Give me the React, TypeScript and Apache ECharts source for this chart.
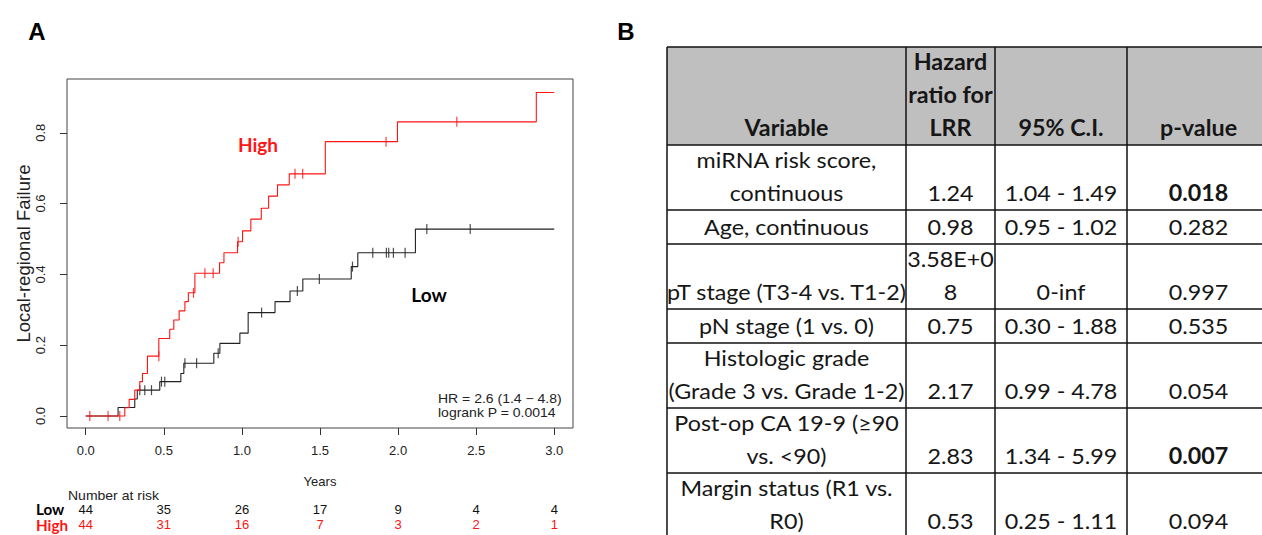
import React, { useEffect, useRef } from "react";
import * as echarts from "echarts";

// ---------- Panel A data ----------
const xTicks = [0, 0.5, 1, 1.5, 2, 2.5, 3];
const yTicks = [0, 0.2, 0.4, 0.6, 0.8];
const lowAtRisk = [44, 35, 26, 17, 9, 4, 4];
const highAtRisk = [44, 31, 16, 7, 3, 2, 1];

// step curves [years, cumulative failure]
const highCurve: [number, number][] = [
  [0, 0], [0.25, 0.023], [0.278, 0.047], [0.314, 0.073], [0.346, 0.097],
  [0.363, 0.12], [0.395, 0.169], [0.468, 0.219], [0.538, 0.245], [0.564, 0.271],
  [0.598, 0.297], [0.635, 0.323], [0.657, 0.348], [0.699, 0.403], [0.857, 0.433],
  [0.885, 0.461], [0.972, 0.492], [1.004, 0.523], [1.057, 0.556], [1.124, 0.587],
  [1.171, 0.621], [1.228, 0.653], [1.303, 0.684], [1.534, 0.775], [1.996, 0.831],
  [2.885, 0.914], [3.0, 0.914],
];
const lowCurve: [number, number][] = [
  [0, 0], [0.207, 0.024], [0.314, 0.048], [0.33, 0.073], [0.474, 0.097],
  [0.609, 0.12], [0.628, 0.149], [0.82, 0.177], [0.859, 0.205], [0.987, 0.234],
  [1.04, 0.292], [1.212, 0.323], [1.308, 0.353], [1.39, 0.387], [1.70, 0.422],
  [1.742, 0.461], [2.111, 0.528], [3.0, 0.528],
];
const highCensor: [number, number][] = [
  [0.026, 0], [0.143, 0], [0.218, 0], [0.468, 0.169], [0.69, 0.348],
  [0.763, 0.403], [0.816, 0.403], [0.976, 0.492], [1.34, 0.684], [1.389, 0.684],
  [1.923, 0.775], [2.376, 0.831],
];
const lowCensor: [number, number][] = [
  [0.346, 0.073], [0.378, 0.073], [0.421, 0.073], [0.485, 0.097], [0.506, 0.097],
  [0.635, 0.149], [0.71, 0.149], [0.848, 0.177], [1.126, 0.292], [1.355, 0.353],
  [1.496, 0.387], [1.708, 0.422], [1.838, 0.461], [1.925, 0.461], [1.94, 0.461],
  [1.97, 0.461], [2.045, 0.461], [2.184, 0.528], [2.462, 0.528],
];

// ---------- Panel B data ----------
const tableHeader = ["Variable", "Hazard\nratio for\nLRR", "95% C.I.", "p-value"];
const variables = [
  "miRNA risk score,\ncontinuous",
  "Age, continuous",
  "pT stage (T3-4 vs. T1-2)",
  "pN stage (1 vs. 0)",
  "Histologic grade\n(Grade 3 vs. Grade 1-2)",
  "Post-op CA 19-9 (≥90\nvs. <90)",
  "Margin status (R1 vs.\nR0)",
];
const hazardRatios = ["1.24", "0.98", "3.58E+0\n8", "0.75", "2.17", "2.83", "0.53"];
const confIntervals = ["1.04 - 1.49", "0.95 - 1.02", "0-inf", "0.30 - 1.88", "0.99 - 4.78", "1.34 - 5.99", "0.25 - 1.11"];
const pValues = ["0.018", "0.282", "0.997", "0.535", "0.054", "0.007", "0.094"];

// table layout
const colEdges = [667, 906, 995, 1127, 1270];
const rowEdges = [47, 145, 210, 244, 309, 343, 408, 473, 538];

const RED = "#ff1414";
const BLACK = "#222";
const R_FONT = "'Liberation Sans', Arial, sans-serif";
const T_FONT = "Lato, 'Noto Sans', sans-serif";

function idxOf(v: number) {
  return xTicks.findIndex((t) => Math.abs(t - v) < 1e-6);
}

function buildTable(): any[] {
  const els: any[] = [];
  const L = colEdges[0];
  const R = colEdges[colEdges.length - 1];
  els.push({
    type: "rect",
    shape: { x: L, y: rowEdges[0], width: R - L, height: rowEdges[1] - rowEdges[0] },
    style: { fill: "#bfbfbf" },
    silent: true,
  });
  const cell = (text: string, c: number, r: number, bold: boolean) => ({
    type: "text",
    x: (colEdges[c] + colEdges[c + 1]) / 2,
    y: rowEdges[r + 1] - 1,
    scaleX: 1.06,
    silent: true,
    style: {
      text,
      fill: "#161616",
      fontFamily: T_FONT,
      fontSize: 22,
      fontWeight: bold ? "bold" : "normal",
      lineHeight: 33,
      align: "center",
      verticalAlign: "bottom",
    },
  });
  tableHeader.forEach((h, c) => els.push(cell(h, c, 0, true)));
  variables.forEach((v, i) => {
    els.push(cell(v, 0, i + 1, false));
    els.push(cell(hazardRatios[i], 1, i + 1, false));
    els.push(cell(confIntervals[i], 2, i + 1, false));
    els.push(cell(pValues[i], 3, i + 1, parseFloat(pValues[i]) < 0.05));
  });
  rowEdges.forEach((y) =>
    els.push({
      type: "line",
      silent: true,
      shape: { x1: L, y1: y, x2: R, y2: y },
      style: { stroke: "#111", lineWidth: 1.5 },
    })
  );
  colEdges.forEach((x) =>
    els.push({
      type: "line",
      silent: true,
      shape: { x1: x, y1: rowEdges[0], x2: x, y2: rowEdges[rowEdges.length - 1] },
      style: { stroke: "#111", lineWidth: 1.5 },
    })
  );
  return els;
}

function rText(text: string, x: number, y: number, opts: any = {}) {
  return {
    type: "text",
    x,
    y,
    scaleX: opts.scaleX ?? 1.12,
    silent: true,
    style: {
      text,
      fill: opts.fill ?? "#222",
      fontFamily: opts.font ?? R_FONT,
      fontSize: opts.size ?? 12.5,
      lineHeight: opts.size ?? 12.5,
      fontWeight: opts.bold ? "bold" : "normal",
      align: opts.align ?? "left",
      verticalAlign: "middle",
    },
  };
}

export default function App() {
  const ref = useRef<HTMLDivElement>(null);
  useEffect(() => {
    if (!ref.current) return;
    const chart = echarts.init(ref.current, undefined, { renderer: "svg" });
    const riskAxis = (offset: number, values: number[], color: string) => ({
      type: "value",
      gridIndex: 0,
      position: "bottom",
      offset,
      min: -0.12,
      max: 3.12,
      axisLine: { show: false, onZero: false },
      axisTick: { show: false },
      splitLine: { show: false },
      axisLabel: {
        customValues: xTicks,
        margin: 0,
        color,
        fontSize: 13,
        fontFamily: R_FONT,
        formatter: (v: number) => String(values[idxOf(v)] ?? ""),
      },
    });
    chart.setOption({
      animation: false,
      backgroundColor: "#fff",
      grid: {
        left: 67,
        top: 79,
        width: 506,
        height: 349,
        show: true,
        borderColor: "#444",
        borderWidth: 1,
        containLabel: false,
      },
      xAxis: [
        {
          type: "value",
          gridIndex: 0,
          position: "bottom",
          min: -0.12,
          max: 3.12,
          axisLine: { show: false, onZero: false },
          axisTick: { show: true, length: 7, customValues: xTicks, lineStyle: { color: "#333" } },
          splitLine: { show: false },
          axisLabel: {
            customValues: xTicks,
            margin: 16,
            color: "#222",
            fontSize: 13,
            fontFamily: R_FONT,
            formatter: (v: number) => v.toFixed(1),
          },
          name: "Years",
          nameLocation: "middle",
          nameGap: 47,
          nameTextStyle: { color: "#222", fontSize: 13, fontFamily: R_FONT },
        },
        riskAxis(75, lowAtRisk, "#111"),
        riskAxis(90, highAtRisk, RED),
      ],
      yAxis: {
        type: "value",
        position: "left",
        min: -0.034,
        max: 0.952,
        axisLine: { show: false, onZero: false },
        axisTick: { show: true, length: 7, customValues: yTicks, lineStyle: { color: "#333" } },
        splitLine: { show: false },
        axisLabel: {
          customValues: yTicks,
          rotate: 90,
          margin: 20,
          color: "#222",
          fontSize: 13,
          fontFamily: R_FONT,
          formatter: (v: number) => v.toFixed(1),
        },
        name: "Local-regional Failure",
        nameLocation: "middle",
        nameGap: 34,
        nameTextStyle: { color: "#222", fontSize: 18.5, fontFamily: R_FONT },
      },
      series: [
        {
          type: "line",
          name: "Low",
          data: lowCurve,
          step: "end",
          symbol: "none",
          lineStyle: { color: BLACK, width: 1.1 },
        },
        {
          type: "line",
          name: "High",
          data: highCurve,
          step: "end",
          symbol: "none",
          lineStyle: { color: RED, width: 1.1 },
        },
        {
          type: "scatter",
          data: lowCensor,
          symbol: "rect",
          symbolSize: [1.2, 10],
          itemStyle: { color: BLACK },
        },
        {
          type: "scatter",
          data: highCensor,
          symbol: "rect",
          symbolSize: [1.2, 10],
          itemStyle: { color: RED },
        },
      ],
      graphic: [
        rText("A", 37, 31, { size: 24, bold: true, align: "center", fill: "#000", scaleX: 1 }),
        rText("B", 626, 31, { size: 24, bold: true, align: "center", fill: "#000", scaleX: 1 }),
        rText("High", 258, 144, { size: 19, bold: true, align: "center", fill: RED, font: T_FONT, scaleX: 1 }),
        rText("Low", 429, 294, { size: 19, bold: true, align: "center", fill: "#000", font: T_FONT, scaleX: 1 }),
        rText("HR = 2.6 (1.4 − 4.8)", 438, 399, {}),
        rText("logrank P = 0.0014", 438, 413, {}),
        rText("Number at risk", 68, 496, {}),
        rText("Low", 36, 509, { size: 14.5, bold: true, fill: "#000", font: T_FONT, scaleX: 1.05 }),
        rText("High", 36, 525.5, { size: 14.5, bold: true, fill: RED, font: T_FONT, scaleX: 1.05 }),
        ...buildTable(),
      ],
    });
    return () => chart.dispose();
  }, []);
  return (
    <div
      ref={ref}
      style={{ position: "absolute", left: 0, top: 0, width: 1262, height: 535, background: "#fff" }}
    />
  );
}
